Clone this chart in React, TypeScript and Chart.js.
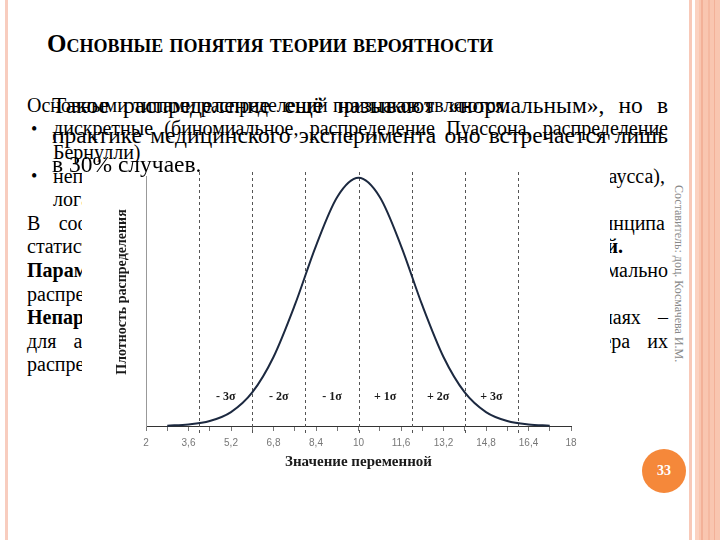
import React, { useEffect, useRef } from 'react';
import { Chart, registerables } from 'chart.js';

Chart.register(...registerables);

// ---- chart data ----
const curveX = [2.8, 3.6, 4.4, 5.2, 6.0, 6.8, 7.6, 8.4, 9.2, 10, 10.8, 11.6, 12.4, 13.2, 14.0, 14.8, 15.6, 16.4, 17.2];
const curveY = [0.0003, 0.0012, 0.0040, 0.0112, 0.0270, 0.0555, 0.0971, 0.1449, 0.1841, 0.1995, 0.1841, 0.1449, 0.0971, 0.0555, 0.0270, 0.0112, 0.0040, 0.0012, 0.0003];
const xTickLabels = ['2', '', '3,6', '', '5,2', '', '6,8', '', '8,4', '', '10', '', '11,6', '', '13,2', '', '14,8', '', '16,4', '', '18'];
const sigmaLines = [4, 6, 8, 10, 12, 14, 16];
const sigmaLabelX = [5, 7, 9, 11, 13, 15];
const sigmaLabels = ['- 3σ', '- 2σ', '- 1σ', '+ 1σ', '+ 2σ', '+ 3σ'];
const xTitle = 'Значение переменной';
const yTitle = 'Плотность распределения';

// ---- slide texts ----
const titleText = 'Основные понятия теории вероятности';
const bodyLines = [
  { x: 27, w: 483, j: true, t: 'Основными типами распределений признаков являются:' },
  { x: 53, w: 615, j: true, t: 'дискретные (биномиальное, распределение Пуассона, распределение' },
  { x: 53, w: 0, j: false, t: 'Бернулли)' },
  { x: 53, w: 612, j: true, t: 'непрерывные (нормальное распределение Гаусса),' },
  { x: 53, w: 0, j: false, t: 'логарифмически нормальное распределение.' },
  { x: 27, w: 638, j: true, t: 'В соответствии с видом распределения выделяют два принципа' },
  { x: 27, w: 596, j: true, t: 'статистического анализа: *параметрический *и *непараметрический.' },
  { x: 27, w: 641, j: true, t: '*Параметрические методы применяются для анализа нормально' },
  { x: 27, w: 0, j: false, t: 'распределенных признаков.' },
  { x: 27, w: 641, j: true, t: '*Непараметрические методы применяются в остальных случаях –' },
  { x: 27, w: 641, j: true, t: 'для анализа качественных признаков независимо от характера их' },
  { x: 27, w: 0, j: false, t: 'распределения.' },
];
const bulletRows = [1, 3];
const bigLines = [
  { j: true, t: 'Такое распределение ещё называют «нормальным», но в' },
  { j: true, t: 'практике медицинского эксперимента оно встречается лишь' },
  { j: false, t: 'в 30% случаев.' },
];
const authorText = 'Составитель: доц. Космачева И.М.';
const pageNumber = '33';

const SERIF = '"Liberation Serif", "Times New Roman", serif';

function topFor(base: number, size: number, lh: number) {
  return base - ((lh - 1.107 * size) / 2 + 0.891 * size);
}

function Words({ text }: { text: string }) {
  return (
    <>
      {text.split(' ').map((w, i) => {
        const bold = w.startsWith('*');
        return (
          <span key={i} style={{ fontWeight: bold ? 'bold' : 'normal', whiteSpace: 'pre' }}>
            {bold ? w.slice(1) : w}
          </span>
        );
      })}
    </>
  );
}

function Line({ t, x, w, j, base, size }: { t: string; x: number; w: number; j: boolean; base: number; size: number }) {
  const lh = Math.round(size * 1.2);
  const style: React.CSSProperties = {
    position: 'absolute',
    left: x,
    top: topFor(base, size, lh),
    fontFamily: SERIF,
    fontSize: size,
    lineHeight: lh + 'px',
    height: lh,
    color: '#000',
    whiteSpace: 'nowrap',
  };
  if (j) {
    return (
      <div style={{ ...style, width: w, display: 'flex', justifyContent: 'space-between', gap: 4 }}>
        <Words text={t} />
      </div>
    );
  }
  const plain = t.split(' ').map((s) => s.replace(/^\*/, '')).join(' ');
  return <div style={style}>{plain}</div>;
}

function NormalChart() {
  const ref = useRef<HTMLCanvasElement | null>(null);
  useEffect(() => {
    if (!ref.current) return;
    const overlay = {
      id: 'sigmaOverlay',
      beforeDatasetsDraw(chart: any) {
        const { ctx, chartArea, scales } = chart;
        const xs = scales.x;
        ctx.save();
        ctx.strokeStyle = '#555';
        ctx.lineWidth = 1;
        ctx.setLineDash([3, 3]);
        sigmaLines.forEach((v) => {
          const px = Math.round(xs.getPixelForValue(v)) + 0.5;
          ctx.beginPath();
          ctx.moveTo(px, chartArea.top - 4);
          ctx.lineTo(px, chartArea.bottom + 8);
          ctx.stroke();
        });
        ctx.setLineDash([]);
        ctx.fillStyle = '#1a1a1a';
        ctx.font = 'bold 12px "Liberation Serif"';
        ctx.textAlign = 'center';
        ctx.textBaseline = 'middle';
        sigmaLabelX.forEach((v, i) => {
          ctx.fillText(sigmaLabels[i], xs.getPixelForValue(v), chartArea.bottom - 29);
        });
        // y axis title
        ctx.save();
        ctx.translate(chartArea.left - 24, (chartArea.top + chartArea.bottom) / 2 - 9);
        ctx.rotate(-Math.PI / 2);
        ctx.font = 'bold 14px "Liberation Serif"';
        ctx.fillText(yTitle, 0, 0);
        ctx.restore();
        ctx.restore();
      },
    };
    const chart = new Chart(ref.current, {
      type: 'line',
      data: {
        datasets: [
          {
            data: curveX.map((x, i) => ({ x, y: curveY[i] })),
            borderColor: '#1c2940',
            borderWidth: 2,
            pointRadius: 0,
            cubicInterpolationMode: 'monotone',
            fill: false,
            clip: false as any,
          },
        ],
      },
      options: {
        animation: false,
        responsive: false,
        layout: { padding: { top: 14, right: 39, left: 0, bottom: 0 } },
        plugins: { legend: { display: false }, tooltip: { enabled: false } },
        scales: {
          x: {
            type: 'linear',
            min: 2,
            max: 18,
            ticks: {
              stepSize: 0.8,
              autoSkip: false,
              maxRotation: 0,
              padding: 6,
              color: '#777',
              font: { family: '"Liberation Sans", Arial, sans-serif', size: 10 },
              callback: (_v: any, i: number) => xTickLabels[i] ?? '',
            },
            grid: { display: true, drawOnChartArea: false, drawTicks: true, tickLength: 5, color: '#777' },
            border: { display: true, color: '#333', width: 1 },
            title: {
              display: true,
              text: xTitle,
              color: '#1a1a1a',
              font: { family: SERIF, size: 15, weight: 'bold' },
              padding: { top: 0, bottom: 9 },
            },
            afterFit: (s: any) => {
              s.height = 54;
            },
          },
          y: {
            min: 0,
            max: 0.201,
            ticks: { display: false },
            grid: { display: false },
            border: { display: true, color: '#999', width: 1 },
            title: { display: false },
            afterFit: (s: any) => {
              s.width = 64;
            },
          },
        },
      },
      plugins: [overlay],
    } as any);
    return () => chart.destroy();
  }, []);
  return (
    <canvas
      ref={ref}
      width={528}
      height={318}
      style={{ position: 'absolute', left: 82, top: 162, width: 528, height: 318, background: '#fff' }}
    />
  );
}

export default function App() {
  useEffect(() => {
    document.body.style.margin = '0';
  }, []);
  const smallSize = 20;
  const smallBase0 = 111.5;
  const smallStep = 23.6;
  const bigSize = 23.5;
  const bigBases = [113, 143, 172];
  return (
    <div style={{ position: 'fixed', left: 0, top: 0, width: 720, height: 540, background: '#fff', overflow: 'hidden' }}>
      {/* decorative borders */}
      <div style={{ position: 'absolute', left: 5, top: 0, width: 3, height: 540, background: '#f8cdbf' }} />
      <div style={{ position: 'absolute', left: 689, top: 0, width: 3, height: 540, background: '#f8c9b8' }} />
      <div style={{ position: 'absolute', left: 695, top: 0, width: 25, height: 540, background: '#f9c6b0' }} />
      <div style={{ position: 'absolute', left: 695, top: 0, width: 4, height: 540, background: '#fbd2c1' }} />
      <div style={{ position: 'absolute', left: 701, top: 0, width: 2, height: 540, background: '#f3b198' }} />
      <div style={{ position: 'absolute', left: 708, top: 0, width: 2, height: 540, background: '#f5b9a1' }} />
      <div style={{ position: 'absolute', left: 714, top: 0, width: 1, height: 540, background: '#f3b198' }} />

      {/* title */}
      <div
        style={{
          position: 'absolute',
          left: 47,
          top: topFor(52, 25, 30),
          fontFamily: SERIF,
          fontSize: 25,
          lineHeight: '30px',
          fontWeight: 'bold',
          fontVariant: 'small-caps',
          whiteSpace: 'nowrap',
          color: '#000',
        }}
      >
        {titleText}
      </div>

      {/* body text (under chart) */}
      {bodyLines.map((l, i) => (
        <Line key={i} t={l.t} x={l.x} w={l.w} j={l.j} base={smallBase0 + i * smallStep} size={smallSize} />
      ))}
      {bulletRows.map((r) => (
        <div
          key={r}
          style={{
            position: 'absolute',
            left: 31,
            top: topFor(smallBase0 + r * smallStep, 18, 22),
            fontFamily: SERIF,
            fontSize: 18,
            lineHeight: '22px',
          }}
        >
          •
        </div>
      ))}

      <NormalChart />

      {/* overlaid large text */}
      {bigLines.map((l, i) => (
        <Line key={i} t={l.t} x={52} w={616} j={l.j} base={bigBases[i]} size={bigSize} />
      ))}

      {/* author, vertical */}
      <div
        style={{
          position: 'absolute',
          left: 671,
          top: 185,
          writingMode: 'vertical-rl',
          fontFamily: SERIF,
          fontSize: 12,
          color: '#888',
          whiteSpace: 'nowrap',
        }}
      >
        {authorText}
      </div>

      {/* page number */}
      <div
        style={{
          position: 'absolute',
          left: 642,
          top: 449,
          width: 44,
          height: 44,
          borderRadius: '50%',
          background: '#f5883a',
          color: '#fff',
          fontFamily: SERIF,
          fontWeight: 'bold',
          fontSize: 14,
          lineHeight: '44px',
          textAlign: 'center',
        }}
      >
        {pageNumber}
      </div>
    </div>
  );
}
